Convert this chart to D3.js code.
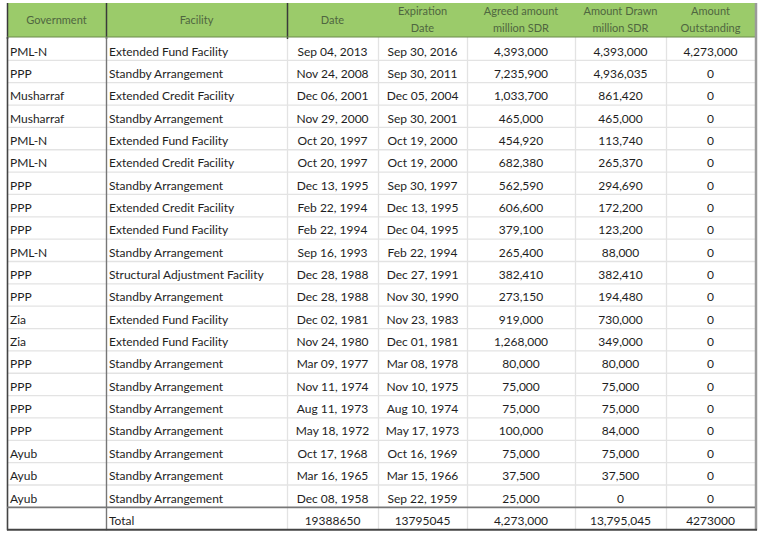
<!DOCTYPE html>
<html><head><meta charset="utf-8">
<script src="https://cdn.jsdelivr.net/npm/d3@7"></script>
<style>body{margin:0;background:#fff;}svg{display:block;}</style>
</head><body><svg id="c" width="764" height="540"></svg>
<script>
const headers = [["Government"],["Facility"],["Date"],["Expiration","Date"],["Agreed amount","million SDR"],["Amount Drawn","million SDR"],["Amount","Outstanding"]];
const government = ["PML-N","PPP","Musharraf","Musharraf","PML-N","PML-N","PPP","PPP","PPP","PML-N","PPP","PPP","Zia","Zia","PPP","PPP","PPP","PPP","Ayub","Ayub","Ayub"];
const facility = ["Extended Fund Facility","Standby Arrangement","Extended Credit Facility","Standby Arrangement","Extended Fund Facility","Extended Credit Facility","Standby Arrangement","Extended Credit Facility","Extended Fund Facility","Standby Arrangement","Structural Adjustment Facility","Standby Arrangement","Extended Fund Facility","Extended Fund Facility","Standby Arrangement","Standby Arrangement","Standby Arrangement","Standby Arrangement","Standby Arrangement","Standby Arrangement","Standby Arrangement"];
const startDate = ["Sep 04, 2013","Nov 24, 2008","Dec 06, 2001","Nov 29, 2000","Oct 20, 1997","Oct 20, 1997","Dec 13, 1995","Feb 22, 1994","Feb 22, 1994","Sep 16, 1993","Dec 28, 1988","Dec 28, 1988","Dec 02, 1981","Nov 24, 1980","Mar 09, 1977","Nov 11, 1974","Aug 11, 1973","May 18, 1972","Oct 17, 1968","Mar 16, 1965","Dec 08, 1958"];
const expirationDate = ["Sep 30, 2016","Sep 30, 2011","Dec 05, 2004","Sep 30, 2001","Oct 19, 2000","Oct 19, 2000","Sep 30, 1997","Dec 13, 1995","Dec 04, 1995","Feb 22, 1994","Dec 27, 1991","Nov 30, 1990","Nov 23, 1983","Dec 01, 1981","Mar 08, 1978","Nov 10, 1975","Aug 10, 1974","May 17, 1973","Oct 16, 1969","Mar 15, 1966","Sep 22, 1959"];
const agreed = [4393000,7235900,1033700,465000,454920,682380,562590,606600,379100,265400,382410,273150,919000,1268000,80000,75000,75000,100000,75000,37500,25000];
const drawn = [4393000,4936035,861420,465000,113740,265370,294690,172200,123200,88000,382410,194480,730000,349000,80000,75000,75000,84000,75000,37500,0];
const outstanding = [4273000,0,0,0,0,0,0,0,0,0,0,0,0,0,0,0,0,0,0,0,0];
const totalRow = ["","Total","19388650","13795045","4,273,000","13,795,045","4273000"];

const fmt = d3.format(",");
const rows = government.map((g,i)=>[g,facility[i],startDate[i],expirationDate[i],fmt(agreed[i]),fmt(drawn[i]),fmt(outstanding[i])]);
const allRows = rows.concat([totalRow]);

const svg = d3.select("#c");
const edges = [7,106,287,378,467,575,666,755];
const colIdx = d3.range(headers.length);
const left = d3.scaleOrdinal().domain(colIdx).range(edges.slice(0,-1));
const right = d3.scaleOrdinal().domain(colIdx).range(edges.slice(1));
const y = d3.scaleLinear().domain([0, allRows.length]).range([37.5, 37.5 + 22.35*allRows.length]);
const headerTop = 3, headerBottom = 37;

const font = "Lato, 'Liberation Sans', sans-serif";

// header
svg.append("rect").attr("x",edges[0]).attr("y",headerTop).attr("width",edges[7]-edges[0]).attr("height",headerBottom-headerTop).attr("fill","#9bcb6a");

// horizontal grid lines
svg.append("g").selectAll("line").data(d3.range(1, allRows.length-1)).join("line")
  .attr("x1",edges[0]).attr("x2",edges[7]).attr("y1",d=>y(d)+0.5).attr("y2",d=>y(d)+0.5)
  .attr("stroke","#e3e3e3").attr("stroke-width",1.3);
// vertical grid lines (light)
svg.append("g").selectAll("line").data([2,3,4,5,6]).join("line")
  .attr("x1",d=>edges[d]+0.5).attr("x2",d=>edges[d]+0.5).attr("y1",headerBottom).attr("y2",y(allRows.length))
  .attr("stroke","#e3e3e3").attr("stroke-width",1.3);

// header dark borders
svg.append("g").selectAll("line").data([0,1,2]).join("line")
  .attr("x1",d=>edges[d]+0.5).attr("x2",d=>edges[d]+0.5).attr("y1",headerTop).attr("y2",headerBottom+2)
  .attr("stroke","#3a3a3a").attr("stroke-width",1.5);
svg.append("line").attr("x1",edges[0]).attr("x2",edges[7]).attr("y1",headerBottom).attr("y2",headerBottom).attr("stroke","#6a8a4a").attr("stroke-width",1);

// body dark vertical borders
svg.append("line").attr("x1",edges[0]+0.5).attr("x2",edges[0]+0.5).attr("y1",headerBottom).attr("y2",y(allRows.length)+1).attr("stroke","#444").attr("stroke-width",1.6);
svg.append("line").attr("x1",edges[1]+0.5).attr("x2",edges[1]+0.5).attr("y1",headerBottom).attr("y2",y(allRows.length)+1).attr("stroke","#777").attr("stroke-width",1.4);
// right border
svg.append("line").attr("x1",edges[7]+1).attr("x2",edges[7]+1).attr("y1",headerTop).attr("y2",y(allRows.length)+1).attr("stroke","#9a9a9a").attr("stroke-width",2.5);
// total separators
svg.append("line").attr("x1",edges[0]).attr("x2",edges[7]).attr("y1",y(allRows.length-1)+0.5).attr("y2",y(allRows.length-1)+0.5).attr("stroke","#777").attr("stroke-width",1.6);
svg.append("line").attr("x1",edges[0]).attr("x2",edges[7]+2).attr("y1",y(allRows.length)+0.5).attr("y2",y(allRows.length)+0.5).attr("stroke","#444").attr("stroke-width",2);

// header text
const hg = svg.append("g").attr("font-family",font).attr("font-size",11).attr("fill","#4f6640").attr("text-anchor","middle");
headers.forEach((h,c)=>{
  const cx = (left(c)+right(c))/2;
  if (h.length===1) {
    hg.append("text").attr("x",cx).attr("y",(headerTop+headerBottom)/2).attr("dy","0.35em").text(h[0]);
  } else {
    hg.append("text").attr("x",cx).attr("y",11).attr("dy","0.35em").text(h[0]);
    hg.append("text").attr("x",cx).attr("y",28).attr("dy","0.35em").text(h[1]);
  }
});

// body text
const bg = svg.append("g").attr("font-family",font).attr("font-size",12).attr("fill","#1e1e1e");
allRows.forEach((r,i)=>{
  const cy = y(i) + 13.8;
  r.forEach((v,c)=>{
    const t = bg.append("text").attr("y",cy).attr("dy","0.35em").text(v);
    if (c<2) t.attr("x",left(c)+3).attr("text-anchor","start");
    else t.attr("x",(left(c)+right(c))/2).attr("text-anchor","middle");
  });
});
</script></body></html>
